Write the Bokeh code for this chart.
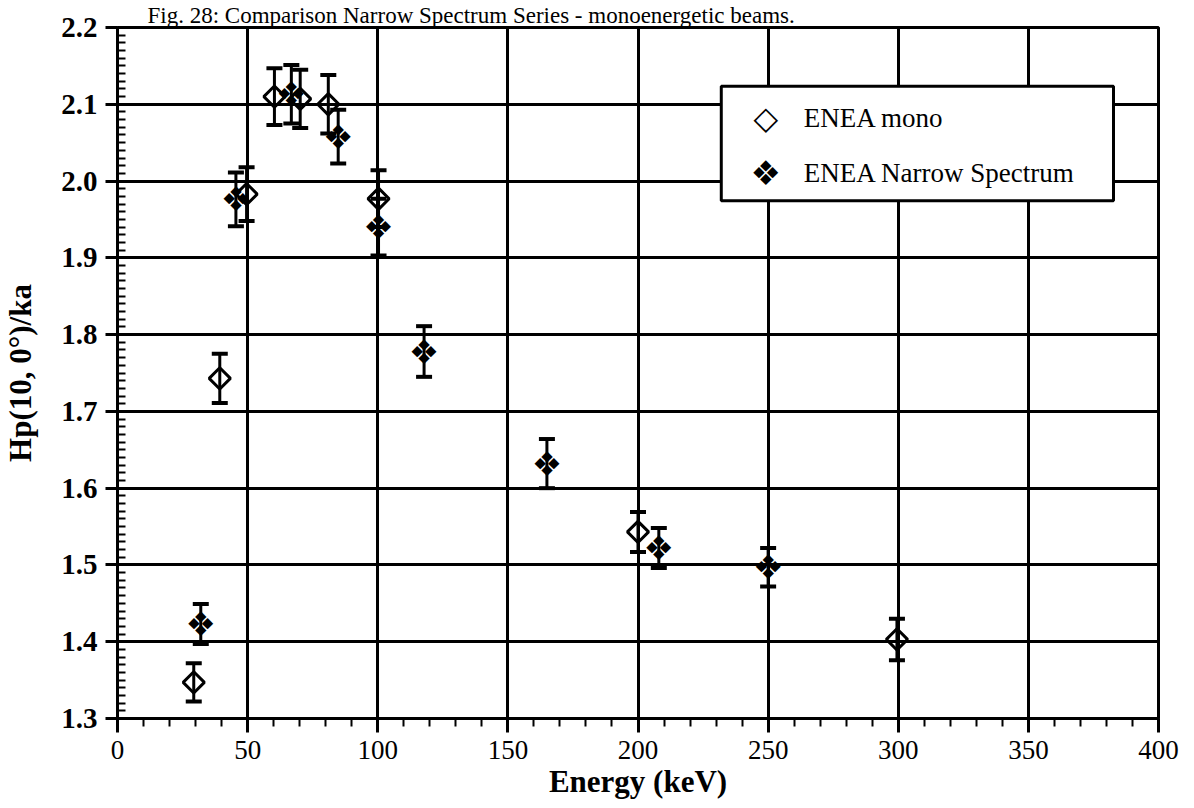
import math
from bokeh.plotting import figure
from bokeh.models import (ColumnDataSource, Whisker, TeeHead, Label, BoxAnnotation,
                          SingleIntervalTicker, Range1d, CustomJSTickFormatter)
from bokeh.core.properties import value
from bokeh.embed import file_html
from bokeh.resources import INLINE

# ---- data ----
mono_x = [29.3, 39.3, 49.6, 60.3, 70.2, 81.0, 100.3, 200.0, 299.5]
mono_y = [1.347, 1.743, 1.983, 2.110, 2.107, 2.100, 1.977, 1.543, 1.403]
mono_err = [0.025, 0.032, 0.035, 0.037, 0.038, 0.038, 0.037, 0.026, 0.027]

narrow_x = [32.0, 45.5, 66.8, 84.8, 100.3, 117.8, 165.0, 208.0, 250.0]
narrow_y = [1.423, 1.976, 2.113, 2.058, 1.940, 1.778, 1.632, 1.522, 1.497]
narrow_err = [0.026, 0.035, 0.038, 0.035, 0.037, 0.033, 0.032, 0.026, 0.025]

x_label = "Energy (keV)"
y_label = "Hp(10, 0°)/ka"
title_text = "Fig. 28: Comparison Narrow Spectrum Series - monoenergetic beams."
legend_labels = ["ENEA mono", "ENEA Narrow Spectrum"]

SERIF = "Liberation Serif"

p = figure(width=1194, height=808, output_backend="svg", toolbar_location=None,
           x_range=Range1d(0, 400), y_range=Range1d(1.3, 2.2),
           min_border_left=116, min_border_right=36, min_border_top=24,
           min_border_bottom=90, title=title_text)
p.title.text_font = SERIF
p.title.text_font_size = "23px"
p.title.text_font_style = "normal"
p.title.text_color = "black"
p.title.align = "left"
p.title.offset = 30
p.title.standoff = 0

p.background_fill_color = "white"
p.border_fill_color = "white"
p.outline_line_color = "black"
p.outline_line_width = 3

# axes
p.xaxis.ticker = SingleIntervalTicker(interval=50, num_minor_ticks=5)
p.yaxis.ticker = SingleIntervalTicker(interval=0.1, num_minor_ticks=10)
p.yaxis.formatter = CustomJSTickFormatter(code="return tick.toFixed(1);")

for ax in (p.xaxis[0], p.yaxis[0]):
    ax.axis_line_width = 3
    ax.axis_line_color = "black"
    ax.major_tick_line_width = 3
    ax.minor_tick_line_width = 2
    ax.major_tick_line_color = "black"
    ax.minor_tick_line_color = "black"
    ax.major_label_text_font = SERIF
    ax.major_label_text_color = "black"
    ax.axis_label_text_font = SERIF
    ax.axis_label_text_font_style = "bold"
    ax.axis_label_text_color = "black"
    ax.axis_label_text_font_size = "31px"

p.xaxis.major_tick_out = 14
p.xaxis.major_tick_in = 0
p.xaxis.minor_tick_out = 8
p.xaxis.minor_tick_in = 0
p.xaxis.major_label_text_font_size = "27px"
p.xaxis.major_label_standoff = 8
p.xaxis.axis_label = x_label
p.xaxis.axis_label_standoff = 2

p.yaxis.major_tick_out = 12
p.yaxis.major_tick_in = 0
p.yaxis.minor_tick_out = 0
p.yaxis.minor_tick_in = 8
p.yaxis.major_label_text_font_size = "29px"
p.yaxis.major_label_text_font_style = "bold"
p.yaxis.major_label_standoff = 8
p.yaxis.axis_label = y_label
p.yaxis.axis_label_standoff = 20

p.xgrid.grid_line_color = "black"
p.xgrid.grid_line_width = 3
p.ygrid.grid_line_color = "black"
p.ygrid.grid_line_width = 3

# error bars
ms = ColumnDataSource(dict(x=mono_x, y=mono_y,
                           lo=[a - b for a, b in zip(mono_y, mono_err)],
                           hi=[a + b for a, b in zip(mono_y, mono_err)]))
ns = ColumnDataSource(dict(x=narrow_x, y=narrow_y, t=["\u2756"] * len(narrow_x),
                           lo=[a - b for a, b in zip(narrow_y, narrow_err)],
                           hi=[a + b for a, b in zip(narrow_y, narrow_err)]))

for src in (ms, ns):
    w = Whisker(source=src, base="x", upper="hi", lower="lo",
                line_color="black", line_width=3,
                upper_head=TeeHead(size=16, line_width=4, line_color="black"),
                lower_head=TeeHead(size=16, line_width=4, line_color="black"))
    p.add_layout(w)

p.scatter("x", "y", source=ms, marker="square", angle=math.pi / 4, size=15,
          fill_alpha=0, line_color="black", line_width=3)
p.text("x", "y", text="t", source=ns, text_font=value("DejaVu Sans"),
       text_font_size="34px", text_align="center", text_baseline="middle",
       text_color="black")

# legend (manual, box + labels)
p.add_layout(BoxAnnotation(left=232, right=382.7, top=2.1235, bottom=1.9743,
                           fill_color="white", fill_alpha=1, line_color="black",
                           line_alpha=1, line_width=3))
p.add_layout(Label(x=249.1, y=2.082, text="\u25C7", text_font="DejaVu Sans",
                   text_font_size="32px", text_align="center", text_baseline="middle",
                   text_font_style="bold", text_color="black"))
p.add_layout(Label(x=249.1, y=2.0106, text="\u2756", text_font="DejaVu Sans",
                   text_font_size="34px", text_align="center", text_baseline="middle",
                   text_color="black"))
p.add_layout(Label(x=263.7, y=2.082, text=legend_labels[0], text_font=SERIF,
                   text_font_size="27px", text_align="left", text_baseline="middle",
                   text_color="black"))
p.add_layout(Label(x=263.7, y=2.0106, text=legend_labels[1], text_font=SERIF,
                   text_font_size="27px", text_align="left", text_baseline="middle",
                   text_color="black"))

open("out.html", "w").write(file_html(p, INLINE))
